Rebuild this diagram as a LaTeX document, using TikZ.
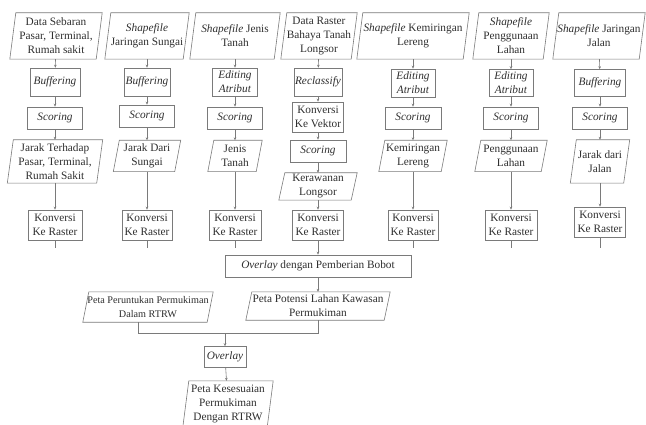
\documentclass[tikz,border=0pt]{standalone}
\usepackage{fontspec}
\setmainfont{Liberation Serif}
\usetikzlibrary{arrows.meta}
\definecolor{txt}{HTML}{2E2E2E}
\definecolor{bord}{HTML}{7A7A7A}
\tikzset{
 base/.style={inner sep=0pt, align=center, text=txt, font=\fontsize{11.3}{14}\selectfont},
 databox/.style={base},
 procbox/.style={base, draw=bord, line width=0.6pt},
 conn/.style={draw=bord, line width=0.6pt},
 arr/.style={conn, -{Stealth[length=3pt,width=2.6pt]}},
 pbord/.style={draw=bord, line width=0.6pt},
}
\newcommand{\parab}[1]{\draw[pbord] ([xshift=-3pt]#1.south west) -- ([xshift=3pt]#1.north west) -- ([xshift=3pt]#1.north east) -- ([xshift=-3pt]#1.south east) -- cycle;}
\begin{document}
\begin{tikzpicture}[x=1pt,y=-1pt]
\useasboundingbox (0,0) rectangle (646,425);
% row 1: data
\node[databox, minimum width=86pt, minimum height=46pt] (d1) at (56,36) {Data Sebaran\\Pasar, Terminal,\\Rumah sakit};
\node[databox, minimum width=78pt, minimum height=46pt] (d2) at (147,36) {\textit{Shapefile}\\Jaringan Sungai};
\node[databox, minimum width=84pt, minimum height=46pt] (d3) at (235,36) {\textit{Shapefile} Jenis\\Tanah};
\node[databox, minimum width=70pt, minimum height=46pt] (d4) at (319,36) {Data Raster\\Bahaya Tanah\\Longsor};
\node[databox, minimum width=106pt, minimum height=46pt] (d5) at (413,36) {\textit{Shapefile} Kemiringan\\Lereng};
\node[databox, minimum width=70pt, minimum height=46pt] (d6) at (511,36) {\textit{Shapefile}\\Penggunaan\\Lahan};
\node[databox, minimum width=86pt, minimum height=46pt] (d7) at (599,36) {\textit{Shapefile} Jaringan\\Jalan};
\foreach \n in {d1,d2,d3,d4,d5,d6,d7} {\parab{\n}}
% row 2: processes
\node[procbox, minimum width=50pt, minimum height=28pt] (p1) at (55,82) {\textit{Buffering}};
\node[procbox, minimum width=46pt, minimum height=28pt] (p2) at (147,82) {\textit{Buffering}};
\node[procbox, minimum width=45pt, minimum height=28pt] (p3) at (235,82) {\textit{Editing}\\\textit{Atribut}};
\node[procbox, minimum width=48pt, minimum height=28pt] (p4) at (318,82) {\textit{Reclassify}};
\node[procbox, minimum width=44pt, minimum height=28pt] (p5) at (413,83) {\textit{Editing}\\\textit{Atribut}};
\node[procbox, minimum width=44pt, minimum height=27pt] (p6) at (511,83) {\textit{Editing}\\\textit{Atribut}};
\node[procbox, minimum width=51pt, minimum height=27pt] (p7) at (600,83) {\textit{Buffering}};
% row 3: scoring
\node[procbox, minimum width=55pt, minimum height=22pt] (s1) at (55,118) {\textit{Scoring}};
\node[procbox, minimum width=55pt, minimum height=22pt] (s2) at (147,116) {\textit{Scoring}};
\node[procbox, minimum width=55pt, minimum height=22pt] (s3) at (235,118) {\textit{Scoring}};
\node[procbox, minimum width=51pt, minimum height=30pt] (k4) at (318,117) {Konversi\\Ke Vektor};
\node[procbox, minimum width=56pt, minimum height=22pt] (s5) at (413,118) {\textit{Scoring}};
\node[procbox, minimum width=55pt, minimum height=22pt] (s6) at (511,118) {\textit{Scoring}};
\node[procbox, minimum width=55pt, minimum height=22pt] (s7) at (600,118) {\textit{Scoring}};
\node[procbox, minimum width=56pt, minimum height=22pt] (s4) at (318,151) {\textit{Scoring}};
% row 4: results
\node[databox, minimum width=89pt, minimum height=43pt] (o1) at (55,161.5) {Jarak Terhadap\\Pasar, Terminal,\\Rumah Sakit};
\node[databox, minimum width=61pt, minimum height=31pt] (o2) at (147,156) {Jarak Dari\\Sungai};
\node[databox, minimum width=48pt, minimum height=31pt] (o3) at (235,156) {Jenis\\Tanah};
\node[databox, minimum width=72pt, minimum height=27pt] (o4) at (318,186.5) {Kerawanan\\Longsor};
\node[databox, minimum width=62pt, minimum height=31pt] (o5) at (413,156) {Kemiringan\\Lereng};
\node[databox, minimum width=66pt, minimum height=31pt] (o6) at (511,156) {Penggunaan\\Lahan};
\node[databox, minimum width=53pt, minimum height=43pt] (o7) at (600,161.5) {Jarak dari\\Jalan};
\foreach \n in {o1,o2,o3,o4,o5,o6,o7} {\parab{\n}}
% row 5: raster conversion
\node[procbox, minimum width=54pt, minimum height=30pt] (r1) at (55,225) {Konversi\\Ke Raster};
\node[procbox, minimum width=50pt, minimum height=30pt] (r2) at (147,225) {Konversi\\Ke Raster};
\node[procbox, minimum width=52pt, minimum height=30pt] (r3) at (235,225) {Konversi\\Ke Raster};
\node[procbox, minimum width=51pt, minimum height=30pt] (r4) at (318,225) {Konversi\\Ke Raster};
\node[procbox, minimum width=50pt, minimum height=30pt] (r5) at (413,225) {Konversi\\Ke Raster};
\node[procbox, minimum width=52pt, minimum height=30pt] (r6) at (511,225) {Konversi\\Ke Raster};
\node[procbox, minimum width=51pt, minimum height=30pt] (r7) at (600,222) {Konversi\\Ke Raster};
% overlay
\node[procbox, minimum width=186pt, minimum height=22pt] (ov1) at (318,266) {\textit{Overlay} dengan Pemberian Bobot};
\node[databox, minimum width=124pt, minimum height=30pt, font=\fontsize{10.2}{14}\selectfont] (pr) at (148,307) {Peta Peruntukan Permukiman\\Dalam RTRW};
\node[databox, minimum width=138pt, minimum height=28pt] (pp) at (318,306) {Peta Potensi Lahan Kawasan\\Permukiman};
\node[procbox, minimum width=42pt, minimum height=21pt] (ov2) at (225,357) {\textit{Overlay}};
\node[databox, minimum width=84pt, minimum height=46pt] (fin) at (228,404) {Peta Kesesuaian\\Permukiman\\Dengan RTRW};
\foreach \n in {pr,pp,fin} {\parab{\n}}
% connectors
\foreach \a/\b in {d1/p1,d2/p2,d3/p3,d4/p4,d5/p5,d6/p6,d7/p7,
  p1/s1,p2/s2,p3/s3,p4/k4,p5/s5,p6/s6,p7/s7,k4/s4,s4/o4,
  s1/o1,s2/o2,s3/o3,s5/o5,s6/o6,s7/o7,
  o1/r1,o2/r2,o3/r3,o4/r4,o5/r5,o6/r6,o7/r7,r4/ov1,ov1/pp,ov2/fin}
  {\draw[arr] (\a) -- (\b);}
\foreach \n/\x in {r1/55,r2/147,r3/235,r5/413,r6/511,r7/600}
  {\coordinate (e\n) at (\x,248); \draw[conn] (\n) -- (e\n);}
\coordinate (mj) at (225,333);
\draw[conn] ([xshift=-10pt]pr.south) |- (mj);
\draw[conn] (pp.south) |- (mj);
\draw[arr] (mj) -- (ov2);
\end{tikzpicture}
\end{document}
